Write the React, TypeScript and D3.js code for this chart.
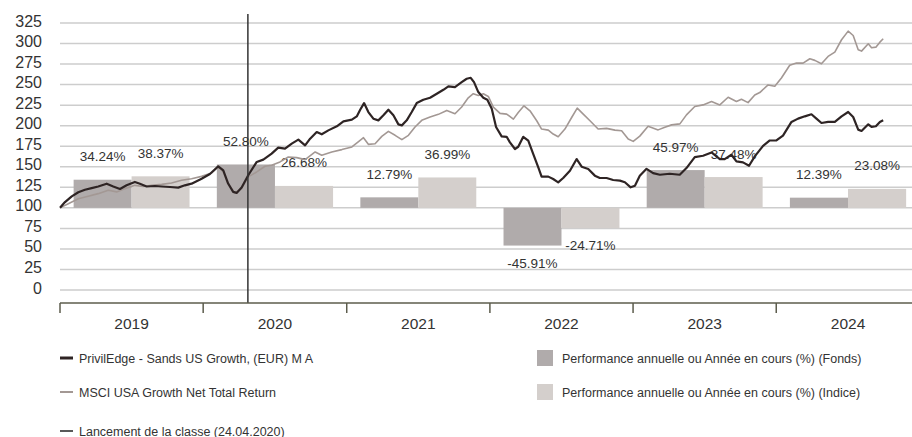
import React, { useEffect, useRef } from 'react';
import * as d3 from 'd3';

// performance (rebased to 100) - dates as decimal years
const fundSeries: [number, number][] = [
  [2019.0, 100], [2019.035, 107], [2019.082, 114], [2019.128, 119], [2019.174, 122],
  [2019.221, 124], [2019.267, 126], [2019.326, 129.4], [2019.372, 126], [2019.419, 123],
  [2019.465, 127.4], [2019.523, 131.5], [2019.558, 129.4], [2019.605, 126], [2019.663, 126.6],
  [2019.71, 126], [2019.768, 125.4], [2019.826, 124.6], [2019.872, 127.4], [2019.919, 129.4],
  [2019.989, 135.5], [2020.047, 141.2], [2020.105, 150.6], [2020.14, 145.7], [2020.174, 129.6],
  [2020.209, 119.4], [2020.233, 118.2], [2020.268, 124.7], [2020.314, 139.7], [2020.373, 155.9],
  [2020.419, 158.7], [2020.477, 166], [2020.523, 173.3], [2020.57, 172], [2020.617, 178.1],
  [2020.663, 183], [2020.71, 176.1], [2020.745, 184.2], [2020.791, 192.3], [2020.826, 189.5],
  [2020.872, 194.3], [2020.931, 199.2], [2020.977, 205.3], [2021.036, 207.3], [2021.07, 211.3],
  [2021.094, 219.4], [2021.121, 227.5], [2021.151, 216.6], [2021.186, 208.5], [2021.221, 206.5],
  [2021.256, 212.6], [2021.291, 219.4], [2021.326, 212.6], [2021.361, 201.6], [2021.385, 200.4],
  [2021.419, 206.5], [2021.454, 216.6], [2021.489, 227.5], [2021.535, 231.6], [2021.582, 234],
  [2021.629, 238.9], [2021.675, 243.7], [2021.71, 247.8], [2021.756, 247], [2021.803, 253],
  [2021.838, 257.1], [2021.866, 258.3], [2021.889, 253], [2021.919, 240.9], [2021.954, 234],
  [2021.982, 231.6], [2022.013, 220.6], [2022.043, 198.4], [2022.082, 187], [2022.117, 186.5],
  [2022.14, 179.7], [2022.175, 171.6], [2022.198, 174.4], [2022.233, 186.5], [2022.268, 181.7],
  [2022.303, 165.5], [2022.338, 149.3], [2022.361, 138], [2022.408, 138], [2022.442, 135.1],
  [2022.477, 131.1], [2022.512, 136.3], [2022.559, 145.2], [2022.606, 159.4], [2022.641, 150.1],
  [2022.687, 147.3], [2022.733, 139.2], [2022.768, 136.3], [2022.815, 136.3], [2022.861, 133.9],
  [2022.908, 133.1], [2022.943, 131.1], [2022.983, 125], [2023.013, 127], [2023.047, 139],
  [2023.094, 147.5], [2023.14, 142.3], [2023.187, 140.3], [2023.256, 141.5], [2023.326, 140.3],
  [2023.373, 148.4], [2023.431, 161.7], [2023.489, 163.4], [2023.548, 167.4], [2023.606, 159.3],
  [2023.64, 159.3], [2023.687, 164.6], [2023.722, 156.5], [2023.768, 155.3], [2023.81, 151.2],
  [2023.85, 162.6], [2023.908, 175.5], [2023.955, 182], [2024.001, 182], [2024.047, 188],
  [2024.106, 204.6], [2024.152, 208.6], [2024.199, 211.4], [2024.245, 213.9], [2024.28, 208.6],
  [2024.315, 203.3], [2024.361, 204.6], [2024.408, 204.6], [2024.455, 211.4], [2024.501, 216.7],
  [2024.536, 210.6], [2024.571, 195.2], [2024.594, 193.6], [2024.641, 201.7], [2024.664, 198.5],
  [2024.694, 199.3], [2024.722, 204.6], [2024.745, 206.6],
];

const indexSeries: [number, number][] = [
  [2019.0, 100], [2019.058, 105], [2019.128, 111], [2019.197, 114], [2019.267, 117.3],
  [2019.337, 121.4], [2019.396, 119.4], [2019.454, 123.4], [2019.523, 127.4], [2019.581, 126],
  [2019.64, 127.4], [2019.71, 128.6], [2019.779, 130.2], [2019.849, 133.5], [2019.919, 135.5],
  [2019.989, 138.3], [2020.059, 142.5], [2020.105, 149.8], [2020.14, 143.7], [2020.174, 128.7],
  [2020.221, 118.2], [2020.268, 123.5], [2020.314, 137.7], [2020.373, 143.7], [2020.431, 150.6],
  [2020.477, 151.8], [2020.535, 155.9], [2020.593, 161.9], [2020.652, 161.1], [2020.71, 158.7],
  [2020.78, 168], [2020.826, 164], [2020.896, 168], [2020.966, 170.9], [2021.036, 174.1],
  [2021.089, 181.5], [2021.117, 185.4], [2021.151, 177.3], [2021.198, 178.1], [2021.245, 187],
  [2021.291, 193.1], [2021.338, 188.3], [2021.385, 183], [2021.431, 188.3], [2021.477, 198.4],
  [2021.524, 206.5], [2021.582, 210.5], [2021.64, 213.8], [2021.699, 218.6], [2021.756, 214.6],
  [2021.803, 222.7], [2021.849, 234], [2021.884, 238.9], [2021.919, 236.8], [2021.954, 238.9],
  [2021.989, 235.6], [2022.024, 222.7], [2022.071, 215], [2022.117, 214.1], [2022.164, 208],
  [2022.198, 216.1], [2022.238, 224.2], [2022.28, 218.1], [2022.327, 206], [2022.361, 195.9],
  [2022.408, 194.6], [2022.442, 189.8], [2022.477, 186.5], [2022.524, 195.9], [2022.571, 210],
  [2022.61, 221.4], [2022.652, 214.1], [2022.699, 206], [2022.756, 195.9], [2022.815, 196.7],
  [2022.873, 194.6], [2022.92, 193.8], [2022.966, 183.7], [2023.001, 180.9], [2023.047, 187.3],
  [2023.105, 199.3], [2023.175, 194.9], [2023.222, 198.2], [2023.269, 201], [2023.327, 202.2],
  [2023.373, 213.2], [2023.431, 223.3], [2023.489, 225.3], [2023.548, 229.4], [2023.606, 225.3],
  [2023.664, 234.6], [2023.722, 229.4], [2023.757, 232.2], [2023.803, 228.1], [2023.85, 237.4],
  [2023.885, 240.3], [2023.943, 249.6], [2023.99, 248], [2024.036, 258], [2024.094, 273.5],
  [2024.141, 276.2], [2024.187, 276.2], [2024.234, 281.5], [2024.269, 279.5], [2024.315, 275.4],
  [2024.361, 284.3], [2024.408, 289.6], [2024.455, 304.6], [2024.501, 315.1], [2024.536, 309.8],
  [2024.571, 292.4], [2024.594, 290.8], [2024.641, 299.7], [2024.664, 294.8], [2024.694, 295.6],
  [2024.722, 301.7], [2024.745, 305.8],
];

const years = [2019, 2020, 2021, 2022, 2023, 2024];
const fundPerf = [34.24, 52.8, 12.79, -45.91, 45.97, 12.39];
const indexPerf = [38.37, 26.68, 36.99, -24.71, 37.48, 23.08];
const yTicks = [0, 25, 50, 75, 100, 125, 150, 175, 200, 225, 250, 275, 300, 325];
const launchDate = '2020-04-24';

const legendLines = [
  { label: 'PrivilEdge - Sands US Growth, (EUR) M A', color: '#2e2424', width: 3 },
  { label: 'MSCI USA Growth Net Total Return', color: '#a39894', width: 2 },
  { label: 'Lancement de la classe (24.04.2020)', color: '#222', width: 1.5 },
];
const legendBars = [
  { label: 'Performance annuelle ou Année en cours (%) (Fonds)', color: '#b0abab' },
  { label: 'Performance annuelle ou Année en cours (%) (Indice)', color: '#d4cfcc' },
];

const FONT = '"Liberation Sans", Arial, sans-serif';

const yearToDate = (y: number) => {
  const yr = Math.floor(y);
  const start = new Date(yr, 0, 1).getTime();
  const end = new Date(yr + 1, 0, 1).getTime();
  return new Date(start + (y - yr) * (end - start));
};

export default function App() {
  const svgRef = useRef<SVGSVGElement>(null);

  useEffect(() => {
    if (!svgRef.current) return;
    const svg = d3.select(svgRef.current);
    svg.selectAll('*').remove();

    const left = 60;
    const right = 912;
    const x = d3.scaleTime()
      .domain([new Date(2019, 0, 1), new Date(2025, 0, 1)])
      .range([left, 919.8]);
    const y = d3.scaleLinear().domain([0, 325]).range([290, 23]);

    // grid
    svg.append('g')
      .selectAll('line')
      .data(yTicks)
      .enter()
      .append('line')
      .attr('x1', left)
      .attr('x2', right)
      .attr('y1', d => y(d))
      .attr('y2', d => y(d))
      .attr('stroke', '#cdcdcd')
      .attr('stroke-width', 1.5);

    svg.append('g')
      .selectAll('text')
      .data(yTicks)
      .enter()
      .append('text')
      .attr('x', 42)
      .attr('y', d => y(d) + 3.5)
      .attr('text-anchor', 'end')
      .attr('font-family', FONT)
      .attr('font-size', 16)
      .attr('fill', '#333')
      .text(d => d);

    // annual bars
    const sub = d3.scaleBand<string>().domain(['fund', 'index']).paddingInner(0).paddingOuter(0.235);
    const bars = years.map((yr, i) => ({ yr, fund: fundPerf[i], index: indexPerf[i] }));
    const barG = svg.append('g');
    bars.forEach(b => {
      const x0 = x(new Date(b.yr, 0, 1));
      const x1 = x(new Date(b.yr + 1, 0, 1));
      sub.range([x0, x1]);
      (['fund', 'index'] as const).forEach(k => {
        const v = b[k];
        const top = y(Math.max(100, 100 + v));
        const bot = y(Math.min(100, 100 + v));
        barG.append('rect')
          .attr('x', sub(k)!)
          .attr('width', sub.bandwidth())
          .attr('y', top)
          .attr('height', bot - top)
          .attr('fill', k === 'fund' ? legendBars[0].color : legendBars[1].color);
        barG.append('text')
          .attr('x', sub(k)! + sub.bandwidth() / 2)
          .attr('y', v >= 0 ? top - 18.5 : bot + 22)
          .attr('text-anchor', 'middle')
          .attr('font-family', FONT)
          .attr('font-size', 13.5)
          .attr('fill', '#333')
          .text(v.toFixed(2) + '%');
      });
    });

    // lines
    const line = d3.line<[number, number]>()
      .x(d => x(yearToDate(d[0])))
      .y(d => y(d[1]))
      .curve(d3.curveLinear);

    svg.append('path')
      .datum(indexSeries)
      .attr('fill', 'none')
      .attr('stroke', legendLines[1].color)
      .attr('stroke-width', 1.6)
      .attr('stroke-linejoin', 'round')
      .attr('d', line);

    svg.append('path')
      .datum(fundSeries)
      .attr('fill', 'none')
      .attr('stroke', legendLines[0].color)
      .attr('stroke-width', 2.2)
      .attr('stroke-linejoin', 'round')
      .attr('d', line);

    // launch marker
    const lx = x(new Date(launchDate));
    svg.append('line')
      .attr('x1', lx).attr('x2', lx)
      .attr('y1', 14).attr('y2', 303)
      .attr('stroke', '#333')
      .attr('stroke-width', 1.5);

    // x axis
    const axisY = 303;
    svg.append('line')
      .attr('x1', left).attr('x2', right)
      .attr('y1', axisY).attr('y2', axisY)
      .attr('stroke', '#5c5c4c')
      .attr('stroke-width', 1.5);
    svg.append('g')
      .selectAll('line')
      .data(years)
      .enter()
      .append('line')
      .attr('x1', d => x(new Date(d, 0, 1)))
      .attr('x2', d => x(new Date(d, 0, 1)))
      .attr('y1', axisY)
      .attr('y2', axisY + 10)
      .attr('stroke', '#5c5c4c')
      .attr('stroke-width', 1.5);
    svg.append('g')
      .selectAll('text')
      .data(years)
      .enter()
      .append('text')
      .attr('x', d => (x(new Date(d, 0, 1)) + x(new Date(d + 1, 0, 1))) / 2)
      .attr('y', 329)
      .attr('text-anchor', 'middle')
      .attr('font-family', FONT)
      .attr('font-size', 15.5)
      .attr('fill', '#333')
      .text(d => d);

    // legend
    const lg = svg.append('g').attr('font-family', FONT).attr('font-size', 12.5).attr('fill', '#333');
    const rowsY = [358, 392, 431];
    legendLines.forEach((l, i) => {
      lg.append('line')
        .attr('x1', 60).attr('x2', 73)
        .attr('y1', rowsY[i]).attr('y2', rowsY[i])
        .attr('stroke', l.color)
        .attr('stroke-width', l.width);
      lg.append('text').attr('x', 79).attr('y', rowsY[i] + 4.5).text(l.label);
    });
    legendBars.forEach((b, i) => {
      lg.append('rect')
        .attr('x', 537).attr('y', rowsY[i] - 8)
        .attr('width', 16).attr('height', 16)
        .attr('fill', b.color);
      lg.append('text').attr('x', 562).attr('y', rowsY[i] + 4.5).text(b.label);
    });
  }, []);

  return (
    <svg
      ref={svgRef}
      width={912}
      height={437}
      style={{ position: 'absolute', left: 0, top: 0, background: '#fff' }}
    />
  );
}
